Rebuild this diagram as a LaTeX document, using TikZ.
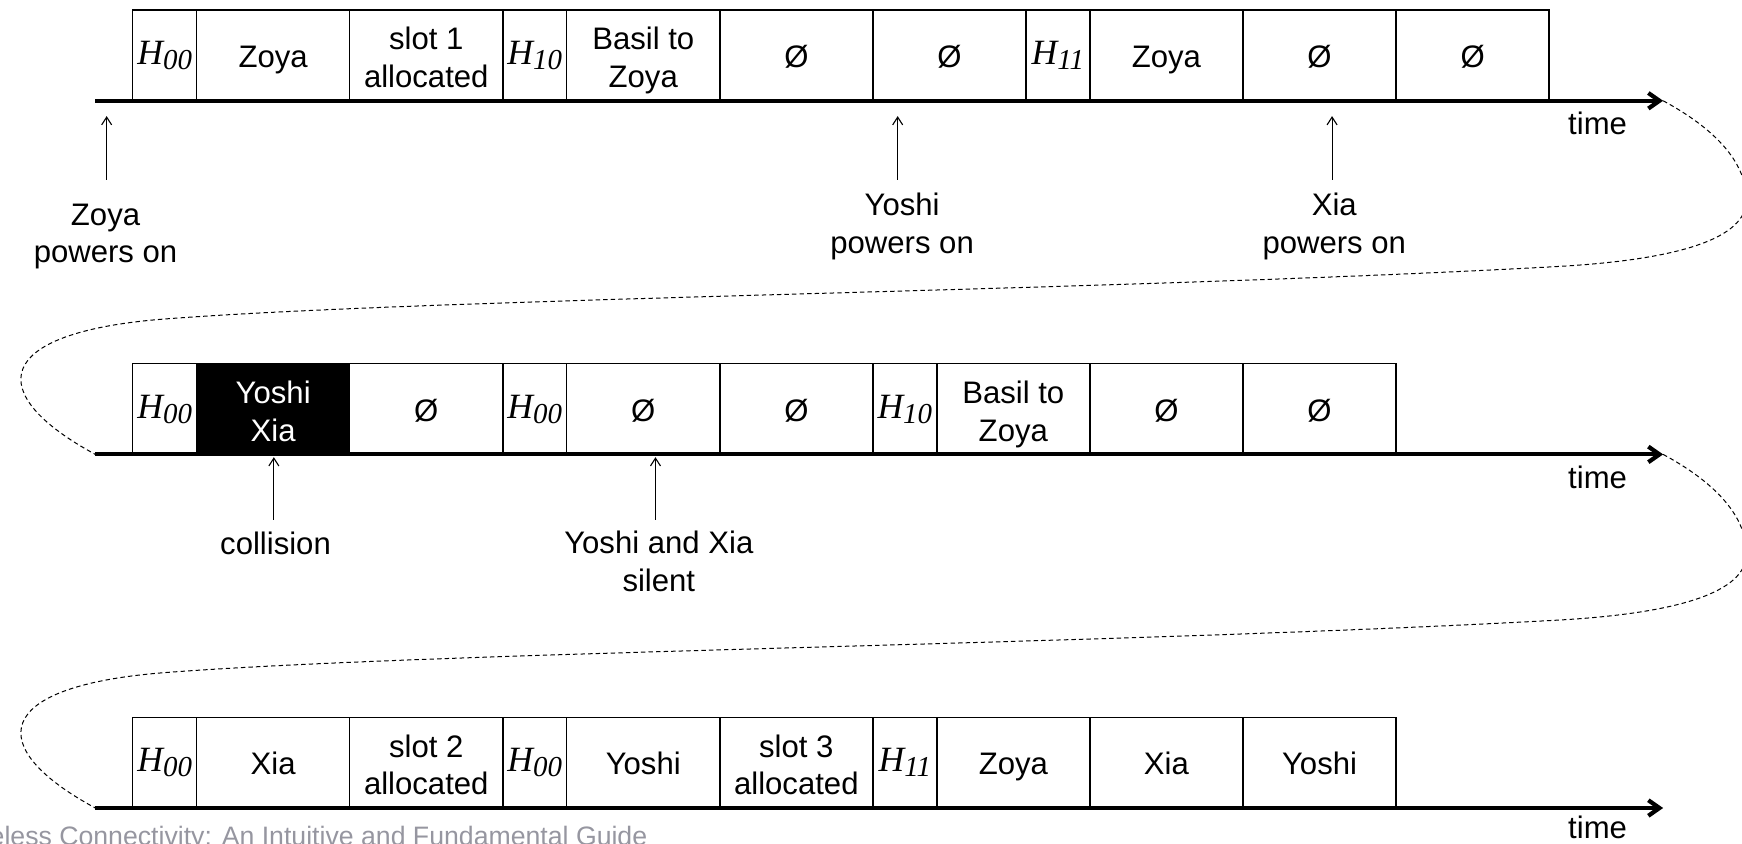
\documentclass[tikz,border=0pt]{standalone}
\usepackage{fontspec}
\setmainfont{Liberation Sans}
\newfontfamily\timesit{Liberation Serif}
\usetikzlibrary{arrows.meta}

% header slot label: italic H with a lowered italic index
\newcommand\hdr[1]{{\timesit\itshape\fontsize{16}{16}\selectfont H\raisebox{-2.25pt}{\fontsize{13}{13}\selectfont #1}}}

\definecolor{wmgray}{RGB}{150,150,160}

\tikzset{
  cell/.style={draw, line width=0.65pt, inner sep=0pt, outer sep=0pt,
    minimum height=40.8pt, anchor=south west, align=center,
    font=\fontsize{14}{17}\selectfont},
  hcell/.style={cell, minimum width=28.75pt},
  scell/.style={cell, minimum width=68.9pt, text height=11pt, text depth=0pt},
  dcell/.style={cell, minimum width=68.9pt, text height=29pt, text depth=0pt},
  hit/.style={fill=black, text=white},
  axis/.style={line width=1.9pt, -{Straight Barb[length=5pt,width=7pt]}},
  pointer/.style={line width=0.5pt, -{Straight Barb[length=3.5pt,width=4.5pt]}},
  wrap/.style={line width=0.45pt, dash pattern=on 2pt off 1.4pt},
  note/.style={inner sep=0pt, align=center, font=\fontsize{14}{17}\selectfont},
}

\begin{document}
\begin{tikzpicture}[x=0.5pt, y=-0.5pt]
\useasboundingbox (0,0) rectangle (1568,759);
\clip (0,0) rectangle (1568,759);

% ---------- first frame ----------
\node[hcell] (a1) at (119.5,90.7) {\hdr{00}};
\node[scell] (a2) at (a1.south east) {Zoya};
\node[dcell] (a3) at (a2.south east) {slot 1\\allocated};
\node[hcell] (a4) at (a3.south east) {\hdr{10}};
\node[dcell] (a5) at (a4.south east) {Basil to\\Zoya};
\node[scell] (a6) at (a5.south east) {Ø};
\node[scell] (a7) at (a6.south east) {Ø};
\node[hcell] (a8) at (a7.south east) {\hdr{11}};
\node[scell] (a9) at (a8.south east) {Zoya};
\node[scell] (a10) at (a9.south east) {Ø};
\node[scell] (a11) at (a10.south east) {Ø};

\coordinate (s1) at (85.8,90.7);
\coordinate (e1) at (1497,90.7);
\draw[axis] (s1) -- (e1);
\node[note] (t1) at (1438,111.5) {time};

\coordinate (zon0) at (96,162);   \coordinate (zon1) at (96,104.5);
\coordinate (yon0) at (808,162);  \coordinate (yon1) at (808,104.5);
\coordinate (xon0) at (1199,162); \coordinate (xon1) at (1199,104.5);
\draw[pointer] (zon0) -- (zon1);
\draw[pointer] (yon0) -- (yon1);
\draw[pointer] (xon0) -- (xon1);
\node[note] (zl) at (95,213) {Zoya\\powers on};
\node[note] (yl) at (812,204) {Yoshi\\powers on};
\node[note] (xl) at (1201,204) {Xia\\powers on};

% ---------- second frame ----------
\node[hcell] (b1) at (119.5,409) {\hdr{00}};
\node[dcell, hit] (b2) at (b1.south east) {Yoshi\\Xia};
\node[scell] (b3) at (b2.south east) {Ø};
\node[hcell] (b4) at (b3.south east) {\hdr{00}};
\node[scell] (b5) at (b4.south east) {Ø};
\node[scell] (b6) at (b5.south east) {Ø};
\node[hcell] (b7) at (b6.south east) {\hdr{10}};
\node[dcell] (b8) at (b7.south east) {Basil to\\Zoya};
\node[scell] (b9) at (b8.south east) {Ø};
\node[scell] (b10) at (b9.south east) {Ø};

\coordinate (s2) at (85.8,409);
\coordinate (e2) at (1497,409);
\draw[axis] (s2) -- (e2);
\node[note] (t2) at (1438,429.8) {time};

\coordinate (col0) at (246.5,468); \coordinate (col1) at (246.5,411.5);
\coordinate (sil0) at (590,468);   \coordinate (sil1) at (590,411.5);
\draw[pointer] (col0) -- (col1);
\draw[pointer] (sil0) -- (sil1);
\node[note] (cl) at (248,489) {collision};
\node[note] (sl) at (593,505) {Yoshi and Xia\\silent};

% ---------- third frame ----------
\node[hcell] (c1) at (119.5,727.3) {\hdr{00}};
\node[scell] (c2) at (c1.south east) {Xia};
\node[dcell] (c3) at (c2.south east) {slot 2\\allocated};
\node[hcell] (c4) at (c3.south east) {\hdr{00}};
\node[scell] (c5) at (c4.south east) {Yoshi};
\node[dcell] (c6) at (c5.south east) {slot 3\\allocated};
\node[hcell] (c7) at (c6.south east) {\hdr{11}};
\node[scell] (c8) at (c7.south east) {Zoya};
\node[scell] (c9) at (c8.south east) {Xia};
\node[scell] (c10) at (c9.south east) {Yoshi};

\coordinate (s3) at (85.8,727.3);
\coordinate (e3) at (1497,727.3);
\draw[axis] (s3) -- (e3);
\node[note] (t3) at (1438,745) {time};

% ---------- wrap-around links between frames ----------
\foreach \from/\to/\dy in {e1/s2/0, e2/s3/318.3} {
  \draw[wrap] (\from) .. controls (1542,{115+\dy}) and (1572,{145+\dy}) .. (1572,{180+\dy})
    .. controls (1572,{215+\dy}) and (1510,{234+\dy}) .. (1400,{240+\dy})
    .. controls (1000,{262+\dy}) and (400,{268+\dy}) .. (150,{287+\dy})
    .. controls (-10,{299+\dy}) and (-14,{355+\dy}) .. (\to);
}

% ---------- source line ----------
\node[anchor=base east, inner sep=0pt, text=wmgray, font=\fontsize{12}{14}\selectfont] (src)
  at (583,761) {Wireless Connectivity: An Intuitive and Fundamental Guide};
\end{tikzpicture}
\end{document}
